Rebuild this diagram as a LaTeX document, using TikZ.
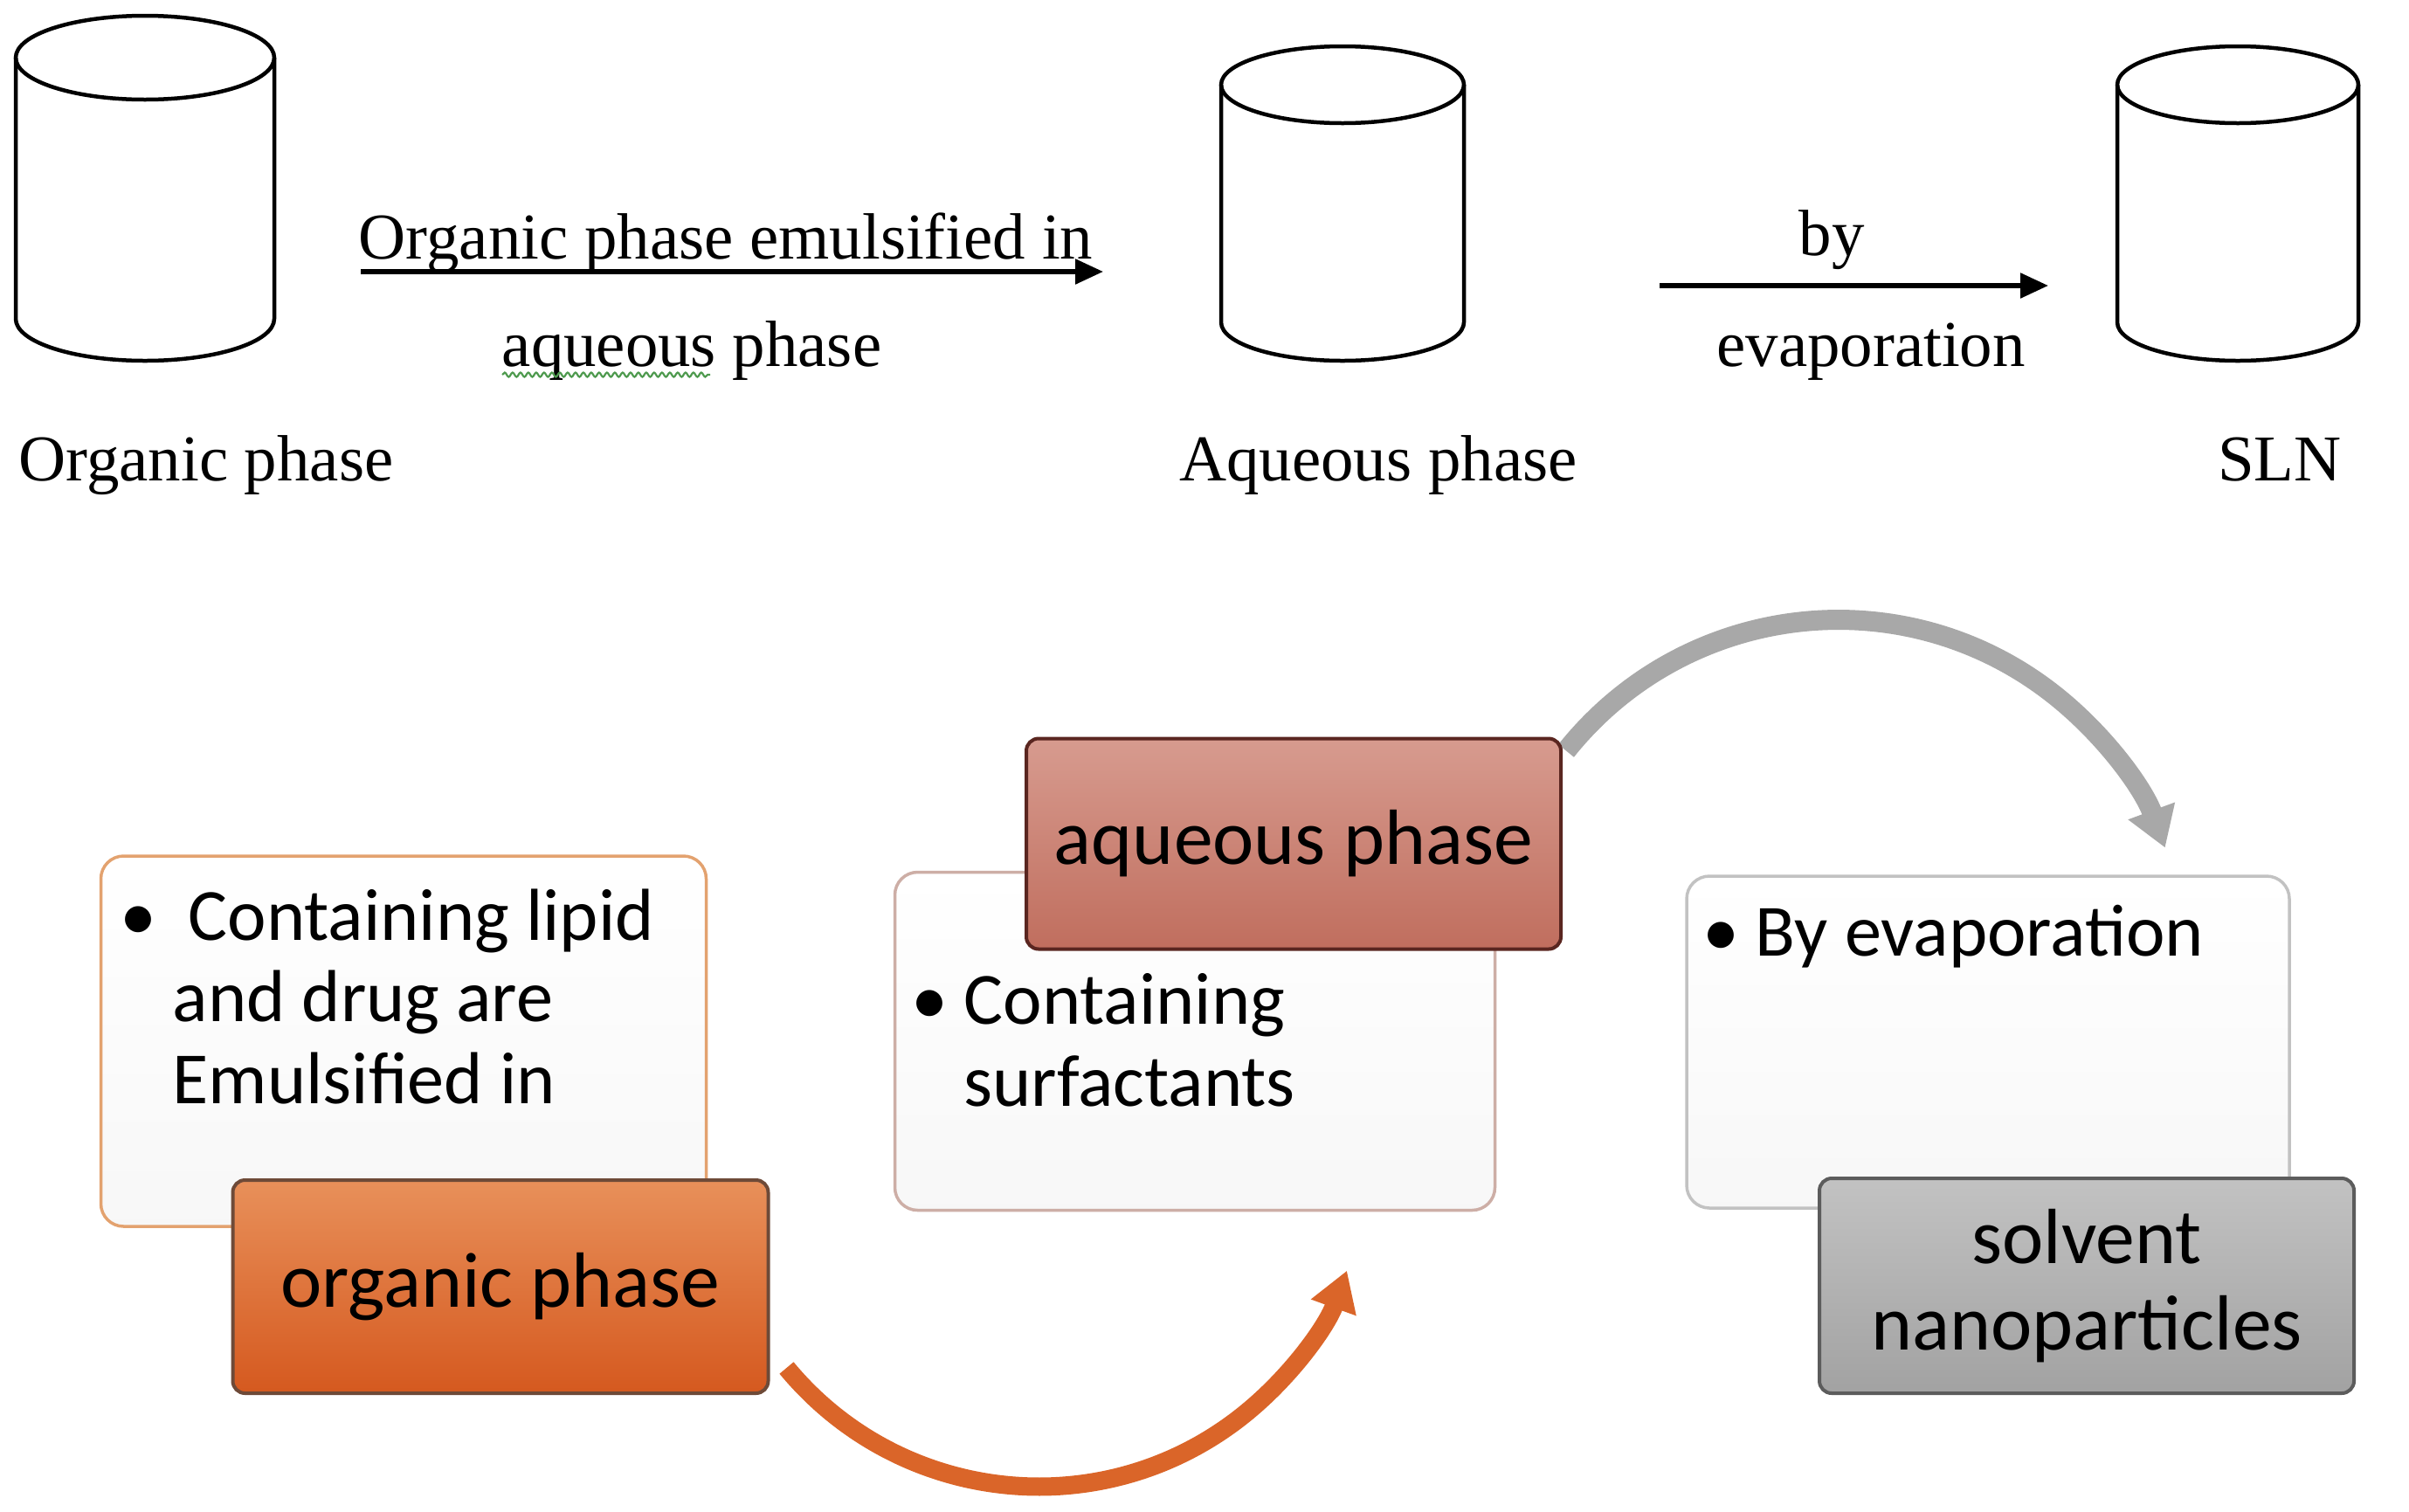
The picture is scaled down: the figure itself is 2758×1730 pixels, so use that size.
\documentclass[tikz,border=0pt]{standalone}
\usepackage{fontspec}
\setmainfont{Liberation Serif}
\newfontfamily\calib{Carlito}
\usepackage{tikz}
\usetikzlibrary{arrows.meta,positioning,decorations.pathmorphing,backgrounds}
\definecolor{orgEdge} {HTML}{E3A26F}
\definecolor{orgTop}  {HTML}{E8905A}
\definecolor{orgBot}  {HTML}{D5591F}
\definecolor{orgRim}  {HTML}{6E4A38}
\definecolor{aqEdge}  {HTML}{CDAEA6}
\definecolor{aqTop}   {HTML}{D79B8F}
\definecolor{aqBot}   {HTML}{C06E5E}
\definecolor{aqRim}   {HTML}{5A2620}
\definecolor{evEdge}  {HTML}{C2C2C2}
\definecolor{evTop}   {HTML}{C2C2C2}
\definecolor{evBot}   {HTML}{A2A2A2}
\definecolor{evRim}   {HTML}{5C5C5C}
\definecolor{flowOrange}{HTML}{DA6529}
\definecolor{flowGrey}  {HTML}{A8A8A8}
\definecolor{spellGreen}{HTML}{4E9A4E}
\newcommand{\notebullet}{\llap{\textbullet\hspace{1.8mm}}}

\begin{document}
\begin{tikzpicture}[x=0.1mm, y=-0.1mm,
   cylline/.style={draw=black, line width=0.45mm},
   caption/.style={font=\fontsize{21.3}{25}\selectfont, inner sep=0pt},
   linkarrow/.style={-{Triangle[length=3.2mm,width=2.8mm]}, line width=0.55mm},
   spellwave/.style={draw=spellGreen, line width=0.22mm,
                     decorate, decoration={snake, amplitude=0.25mm, segment length=0.9mm}},
   notebox/.style={rectangle, rounded corners=2.6mm, line width=0.35mm,
                   top color=white, bottom color=black!3},
   notetext/.style={font=\calib\fontsize{24}{26.5}\selectfont, align=left, inner sep=0pt},
   tagbox/.style={rectangle, rounded corners=1.4mm, line width=0.4mm, align=center,
                  inner sep=0pt, font=\calib\fontsize{25.5}{28}\selectfont},
   orangeflow/.style={draw=flowOrange, line width=2.1mm, -{Triangle[length=4.5mm,width=5.2mm]}},
   greyflow/.style={draw=flowGrey, line width=2.3mm, -{Triangle[length=4.5mm,width=5.4mm]}}
]
\useasboundingbox (0,0) rectangle (2758,1730);

% top row: the three vessels
\foreach \cx/\rx/\ty/\ry/\by in {166/148/66/48/365, 1537/139/97/44/369, 2562/138/97/44/369}{
  \draw[cylline] (\cx,\ty) ellipse[x radius=\rx, y radius=\ry];
  \draw[cylline] (\cx-\rx,\ty) -- (\cx-\rx,\by)
     arc[start angle=180, end angle=0, x radius=\rx, y radius=\ry] -- (\cx+\rx,\ty);
}
\node[caption, anchor=base] (orgcap) at (236,550) {Organic phase};
\node[caption, anchor=base] (aqcap) at (1578,550) {Aqueous phase};
\node[caption, anchor=base] (slncap) at (2610,550) {SLN};

% top row: arrows
\coordinate (emA) at (413,311);
\coordinate (emB) at (1263,311);
\draw[linkarrow] (emA) -- (emB);
\node[caption, anchor=base] (emtop) at (831,296) {Organic phase emulsified in};
\node[caption, anchor=base] (embot) at (792,419) {aqueous phase};
\draw[spellwave] ([shift={(1,10)}]embot.base west) -- ++(238,0);

\coordinate (evA) at (1900,327);
\coordinate (evB) at (2345,327);
\draw[linkarrow] (evA) -- (evB);
\node[caption, anchor=base] (evtop) at (2097,292) {by};
\node[caption, anchor=base] (evbot) at (2142,419) {evaporation};

% bottom row: note boxes and tags (base = last line)
\node[notebox, draw=orgEdge, minimum width=69.3mm, minimum height=42.4mm] (orgbox) at (462,1192) {};
\node[notetext, anchor=base west] (orgtxt) at (197,1263)
     {\notebullet\hspace{1.8mm}Containing lipid\\and drug are\\Emulsified in};
\node[tagbox, draw=orgRim, top color=orgTop, bottom color=orgBot,
      minimum width=61.3mm, minimum height=24.4mm] (orglbl) at (573,1473) {organic phase};

\node[notebox, draw=aqEdge, minimum width=68.7mm, minimum height=38.7mm] (aqbox) at (1368,1192) {};
\node[notetext, anchor=base west] (aqtxt) at (1103,1266) {\notebullet Containing\\surfactants};
\node[tagbox, draw=aqRim, top color=aqTop, bottom color=aqBot,
      minimum width=61.2mm, minimum height=24.1mm] (aqlbl) at (1481,966) {aqueous phase};

\node[notebox, draw=evEdge, minimum width=69mm, minimum height=38mm] (evbox) at (2276,1193) {};
\node[notetext, anchor=base west] (evtxt) at (2009,1094) {\notebullet By evaporation};
\node[tagbox, draw=evRim, top color=evTop, bottom color=evBot,
      minimum width=61.2mm, minimum height=24.6mm] (evlbl) at (2389,1472) {solvent\\nanoparticles};

% curved flow arrows
\begin{scope}[on background layer]
\draw[orangeflow] ([shift={(19,-31)}]orglbl.south east) arc[start angle=140.4, end angle=19.9, radius=375];
\draw[greyflow] ([shift={(4,16)}]aqlbl.north east) arc[start angle=-141.4, end angle=-20.2, radius=398.7];
\end{scope}
\end{tikzpicture}
\end{document}
